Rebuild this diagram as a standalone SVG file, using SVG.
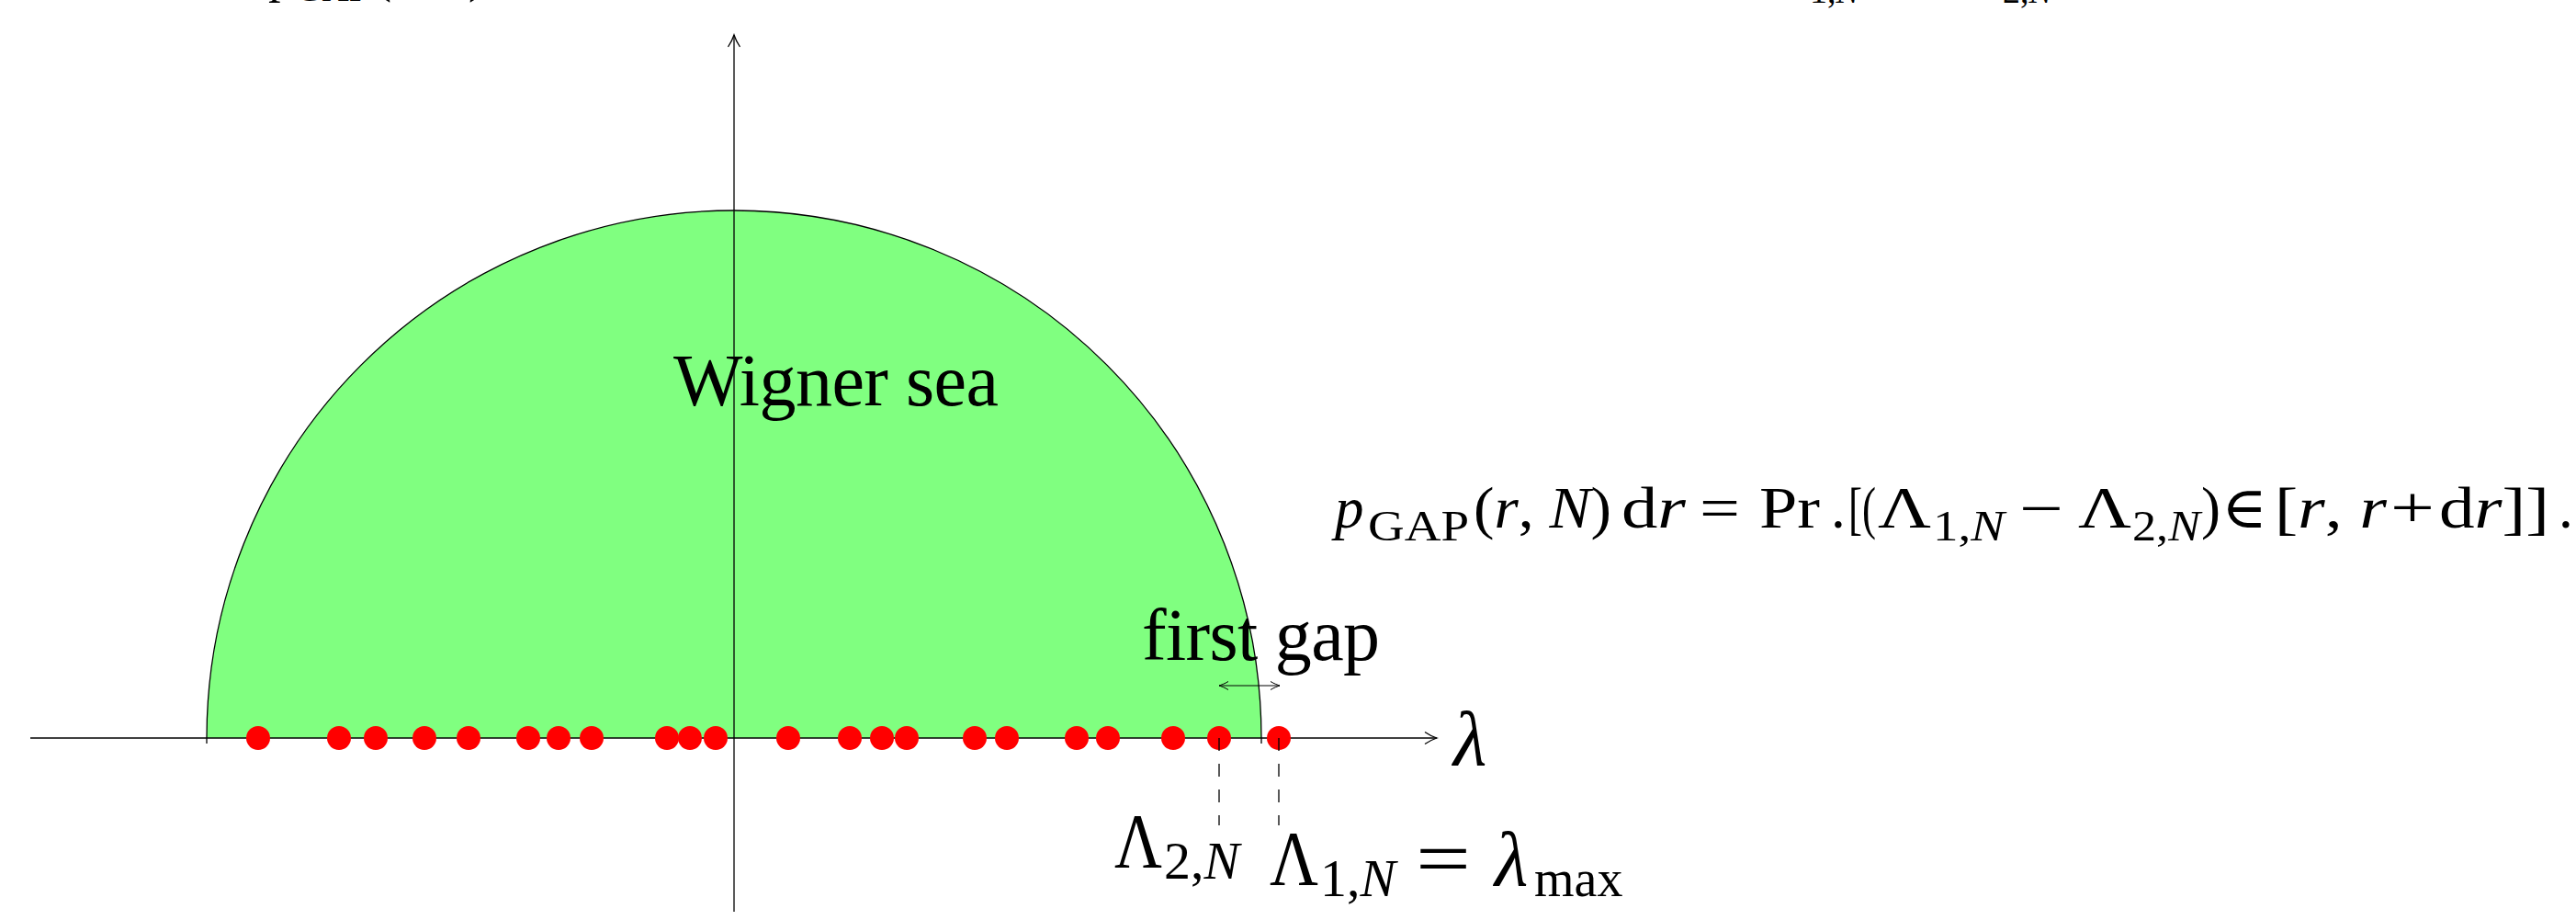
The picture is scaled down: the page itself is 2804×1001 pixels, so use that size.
<svg xmlns="http://www.w3.org/2000/svg" width="2804" height="1001" viewBox="0 0 2804 1001">
<style>
.t{font-family:"Liberation Serif","DejaVu Serif",serif;fill:#000}
.i{font-style:italic}
.f{font-size:63px}
.fs{font-size:46px}
.ax{stroke:#000;stroke-width:1.3;fill:none}
.dot{fill:#ff0000}
.dash{stroke:#000;stroke-width:1.3;stroke-dasharray:14 14;fill:none}
</style>
<defs>
<marker id="to" viewBox="-15 -8 17 16" refX="0" refY="0" markerWidth="17" markerHeight="16" markerUnits="userSpaceOnUse" orient="auto">
<path d="M -13 -6.5 C -8 -3 -3 -1 0 0 C -3 1 -8 3 -13 6.5" fill="none" stroke="#000" stroke-width="1.3"/>
</marker>
<marker id="tos" viewBox="-12 -6 13 12" refX="0" refY="0" markerWidth="13" markerHeight="12" markerUnits="userSpaceOnUse" orient="auto-start-reverse">
<path d="M -10 -4.5 C -6 -2 -2 -0.7 0 0 C -2 0.7 -6 2 -10 4.5" fill="none" stroke="#000" stroke-width="1"/>
</marker>
</defs>
<rect width="2804" height="1001" fill="#fff"/>

<g id="clipped-top">
<text class="t i" x="296" y="-9" font-size="54">p</text>
<text class="t" x="322" y="1" font-size="38" textLength="80" lengthAdjust="spacingAndGlyphs">GAP</text>
<text class="t" x="408" y="-9" font-size="54">(<tspan class="i">r</tspan>, <tspan class="i">N</tspan>)</text>
<text class="t" x="1922" y="-11" font-size="54">Λ</text>
<text class="t" x="1970" y="3" font-size="38">1,<tspan class="i">N</tspan></text>
<text class="t" x="2060" y="-11" font-size="54">−</text>
<text class="t" x="2130" y="-11" font-size="54">Λ</text>
<text class="t" x="2180" y="3" font-size="38">2,<tspan class="i">N</tspan></text>
</g>

<g id="wigner-sea">
<path d="M 225 803 A 574 574 0 0 1 1373 803 Z" fill="#80ff80" stroke="none"/>
</g>

<g id="connectors">
<line id="x-axis" class="ax" x1="33" y1="803" x2="1564" y2="803" marker-end="url(#to)"/>
<line id="y-axis" class="ax" x1="799" y1="992" x2="799" y2="38" marker-end="url(#to)"/>
<path id="sea-edge" class="ax" d="M 225 809 L 225 803 A 574 574 0 0 1 1373 803 L 1373 809"/>
</g>

<g id="eigenvalues">
<circle class="dot" cx="281" cy="803" r="13"/>
<circle class="dot" cx="369" cy="803" r="13"/>
<circle class="dot" cx="409" cy="803" r="13"/>
<circle class="dot" cx="462" cy="803" r="13"/>
<circle class="dot" cx="510" cy="803" r="13"/>
<circle class="dot" cx="575" cy="803" r="13"/>
<circle class="dot" cx="608" cy="803" r="13"/>
<circle class="dot" cx="644" cy="803" r="13"/>
<circle class="dot" cx="726" cy="803" r="13"/>
<circle class="dot" cx="751" cy="803" r="13"/>
<circle class="dot" cx="779" cy="803" r="13"/>
<circle class="dot" cx="858" cy="803" r="13"/>
<circle class="dot" cx="925" cy="803" r="13"/>
<circle class="dot" cx="960" cy="803" r="13"/>
<circle class="dot" cx="987" cy="803" r="13"/>
<circle class="dot" cx="1061" cy="803" r="13"/>
<circle class="dot" cx="1096" cy="803" r="13"/>
<circle class="dot" cx="1172" cy="803" r="13"/>
<circle class="dot" cx="1206" cy="803" r="13"/>
<circle class="dot" cx="1277" cy="803" r="13"/>
<circle id="lambda2" class="dot" cx="1327" cy="803" r="13"/>
<circle id="lambda1" class="dot" cx="1392" cy="803" r="13"/>
</g>

<g id="connectors-2">
<line class="dash" x1="1327" y1="803" x2="1327" y2="898"/>
<line class="dash" x1="1392" y1="803" x2="1392" y2="898"/>
<line id="gap-arrow" x1="1327" y1="746" x2="1393" y2="746" stroke="#000" stroke-width="1" marker-start="url(#tos)" marker-end="url(#tos)"/>
</g>

<g id="label-wigner">
<text class="t" x="733" y="441" font-size="80" textLength="354">Wigner sea</text>
</g>
<g id="label-gap">
<text class="t" x="1243" y="718" font-size="80" textLength="259">first gap</text>
</g>
<g id="label-lambda">
<text class="t i" x="1582" y="832" font-size="84">λ</text>
</g>
<g id="label-L2">
<text class="t" x="1213" y="944" font-size="84" textLength="52" lengthAdjust="spacingAndGlyphs">Λ</text>
<text class="t" x="1267" y="956" font-size="58">2,<tspan class="i">N</tspan></text>
</g>
<g id="label-L1">
<text class="t" x="1382" y="963" font-size="84" textLength="53" lengthAdjust="spacingAndGlyphs">Λ</text>
<text class="t" x="1437" y="975" font-size="58">1,<tspan class="i">N</tspan></text>
<text class="t" x="1541" y="963" font-size="84" textLength="60" lengthAdjust="spacingAndGlyphs">=</text>
<text class="t i" x="1627" y="963" font-size="84">λ</text>
<text class="t" x="1670" y="975" font-size="56">max</text>
</g>

<g id="formula">
<text class="t i f" x="1453" y="574">p</text>
<text class="t fs" x="1489" y="588" textLength="110" lengthAdjust="spacingAndGlyphs">GAP</text>
<text class="t f" x="1604" y="574" textLength="150" lengthAdjust="spacingAndGlyphs">(<tspan class="i">r</tspan>, <tspan class="i">N</tspan>)</text>
<text class="t f" x="1765" y="574" textLength="70" lengthAdjust="spacingAndGlyphs">d<tspan class="i">r</tspan></text>
<text class="t f" x="1850" y="574" textLength="44" lengthAdjust="spacingAndGlyphs">=</text>
<text class="t f" x="1915" y="574" textLength="66" lengthAdjust="spacingAndGlyphs">Pr</text>
<text class="t f" x="1993" y="574">.</text>
<text class="t f" x="2012" y="574" textLength="30" lengthAdjust="spacingAndGlyphs">[(</text>
<text class="t f" x="2044" y="574" textLength="58" lengthAdjust="spacingAndGlyphs">Λ</text>
<text class="t fs" x="2104" y="588" textLength="78" lengthAdjust="spacingAndGlyphs">1,<tspan class="i">N</tspan></text>
<text class="t f" x="2198" y="574" textLength="48" lengthAdjust="spacingAndGlyphs">−</text>
<text class="t f" x="2262" y="574" textLength="58" lengthAdjust="spacingAndGlyphs">Λ</text>
<text class="t fs" x="2321" y="588" textLength="74" lengthAdjust="spacingAndGlyphs">2,<tspan class="i">N</tspan></text>
<text class="t f" x="2396" y="574">)</text>
<text class="t f" x="2418" y="574" textLength="50" lengthAdjust="spacingAndGlyphs">∈</text>
<text class="t f" x="2476" y="574" textLength="122" lengthAdjust="spacingAndGlyphs">[<tspan class="i">r</tspan>, <tspan class="i">r</tspan></text>
<text class="t f" x="2602" y="574" textLength="48" lengthAdjust="spacingAndGlyphs">+</text>
<text class="t f" x="2655" y="574" textLength="120" lengthAdjust="spacingAndGlyphs">d<tspan class="i">r</tspan>]]</text>
<text class="t f" x="2785" y="574">.</text>
</g>
</svg>
